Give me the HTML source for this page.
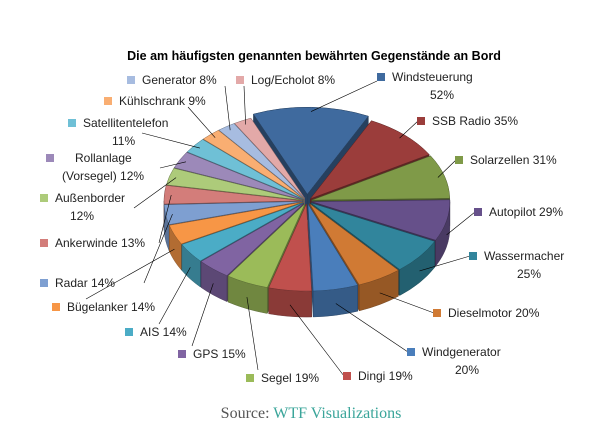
<!DOCTYPE html>
<html><head><meta charset="utf-8">
<style>
html,body{margin:0;padding:0;background:#fff;}
svg{display:block;font-family:"Liberation Sans",sans-serif;}
</style></head>
<body>
<svg id="chart" width="602" height="444" viewBox="0 0 602 444" xmlns="http://www.w3.org/2000/svg">
<text x="314" y="60" text-anchor="middle" font-size="12.5" font-weight="bold" fill="#000">Die am häufigsten genannten bewährten Gegenstände an Bord</text>
<g id="slices"></g>
<g id="labels"></g>
<text x="311" y="418" text-anchor="middle" font-family="'Liberation Serif',serif" font-size="16" fill="#555">Source: <tspan fill="#3aa59a">WTF Visualizations</tspan></text>
</svg>
<script>
const categories = ["Windsteuerung","SSB Radio","Solarzellen","Autopilot","Wassermacher","Dieselmotor","Windgenerator","Dingi","Segel","GPS","AIS","Bügelanker","Radar","Ankerwinde","Außenborder","Rollanlage (Vorsegel)","Satellitentelefon","Kühlschrank","Generator","Log/Echolot"];
const values = [52,35,31,29,25,20,20,19,19,15,14,14,14,13,12,12,11,9,8,8];
const colors = ["#3F6A9E","#9B3D3B","#7F9A48","#66508A","#31859C","#D07A34","#4A7EBB","#C0504D","#9BBB59","#8064A2","#4BACC6","#F79646","#7E9FD1","#D37D7A","#ADCB7A","#9C89B9","#6FC0D6","#F9AE72","#A7BCE0","#E3A9A8"];
const labelLines = [["Windsteuerung","52%"],["SSB Radio 35%"],["Solarzellen 31%"],["Autopilot 29%"],["Wassermacher","25%"],["Dieselmotor 20%"],["Windgenerator","20%"],["Dingi 19%"],["Segel 19%"],["GPS 15%"],["AIS 14%"],["Bügelanker 14%"],["Radar 14%"],["Ankerwinde 13%"],["Außenborder","12%"],["Rollanlage","(Vorsegel) 12%"],["Satellitentelefon","11%"],["Kühlschrank 9%"],["Generator 8%"],["Log/Echolot 8%"]];
const labelPos = [[381,77],[421,121],[459,160],[478,212],[473,256],[437,313],[411,352],[347,376],[250,378],[182,354],[129,332],[56,307],[44,283],[44,243],[44,198],[50,158],[72,123],[108,101],[131,80],[240,80]];
const secondLineX = [430,0,0,0,517,0,455,0,0,0,0,0,0,0,70,62,112,0,0,0];

const NS="http://www.w3.org/2000/svg";
const cx=307, cy=201, rx=138, ry=87, depth=26, startDeg=-113;
const total=values.reduce((a,b)=>a+b,0);
function rad(d){return d*Math.PI/180;}
function pt(a,ox,oy,r=1,dz=0){return [cx+ox+rx*r*Math.cos(rad(a)), cy+oy+ry*r*Math.sin(rad(a))+dz];}
function shade(hex,f){const n=parseInt(hex.slice(1),16);let r=(n>>16)&255,g=(n>>8)&255,b=n&255;return `rgb(${Math.round(r*f)},${Math.round(g*f)},${Math.round(b*f)})`;}
const gS=document.getElementById('slices'), gL=document.getElementById('labels');
function mk(tag,attrs,parent){const e=document.createElementNS(NS,tag);for(const k in attrs)e.setAttribute(k,attrs[k]);parent.appendChild(e);return e;}

let acc=startDeg; const sl=[];
values.forEach((v,i)=>{const a0=acc,a1=acc+v/total*360;acc=a1;const m=(a0+a1)/2;const ex=i===0?11:5;
 sl.push({i,a0,a1,m,ox:ex*Math.cos(rad(m)),oy:ex*0.62*Math.sin(rad(m))});});

const faces=[];
sl.forEach(s=>{
 [s.a0,s.a1].forEach(a=>{const p=pt(a,s.ox,s.oy);faces.push({y:(cy+p[1])/2,s,d:`M${cx+s.ox},${cy+s.oy}L${p[0]},${p[1]}L${p[0]},${p[1]+depth}L${cx+s.ox},${cy+s.oy+depth}Z`,f:0.6});});
 const s0=Math.max(s.a0,0), s1=Math.min(s.a1,180);
 if(s1>s0){const p0=pt(s0,s.ox,s.oy),p1=pt(s1,s.ox,s.oy);
  const la=(s1-s0)>180?1:0;
  faces.push({y:1000+pt((s0+s1)/2,0,0)[1],s,d:`M${p0[0]},${p0[1]}A${rx},${ry} 0 ${la} 1 ${p1[0]},${p1[1]}L${p1[0]},${p1[1]+depth}A${rx},${ry} 0 ${la} 0 ${p0[0]},${p0[1]+depth}Z`,f:0.72});}
});
faces.sort((a,b)=>a.y-b.y).forEach(F=>{
 const e=mk('path',{d:F.d,fill:shade(colors[F.s.i],F.f),stroke:shade(colors[F.s.i],0.5),'stroke-width':0.4},gS);
 
 
});
sl.forEach(s=>{
 const p0=pt(s.a0,s.ox,s.oy),p1=pt(s.a1,s.ox,s.oy);const la=(s.a1-s.a0)>180?1:0;
 const e=mk('path',{d:`M${cx+s.ox},${cy+s.oy}L${p0[0]},${p0[1]}A${rx},${ry} 0 ${la} 1 ${p1[0]},${p1[1]}Z`,fill:colors[s.i],stroke:shade(colors[s.i],0.6),'stroke-width':0.5},gS);
 
 
});

sl.forEach(s=>{
 const [sx,sy]=labelPos[s.i]; const lines=labelLines[s.i];
 const onRight = sx>300 && s.i<9;
 const m=s.m; const front=Math.sin(rad(m))>0.2;
 const ep=pt(m,s.ox,s.oy,front?1:0.95,front?depth*0.55:0);
 let ax,ay;
 if(s.i===0){ax=sx-4;ay=sy+4;}
 else if(s.i>=17){ax=sx+ (s.i===17?80:s.i===18?94:4);ay=sy+6;}
 else if(onRight){ax=sx-3;ay=sy;}
 else if(s.i>=7&&s.i<=11){ax=sx+ (s.i===7?-3:s.i===11?30:s.i===10?30:s.i===9?10:8);ay=sy-8;}
 else {ax=sx+ (s.i===16?70:s.i===15?110:s.i===14?90:s.i===13?115:100);ay=sy+(lines.length>1?10:0);}
 const ln=mk('line',{x1:ax,y1:ay,x2:ep[0],y2:ep[1],stroke:'#000','stroke-width':0.6},gL);
 
 
 const sq=mk('rect',{x:sx-4,y:sy-4,width:8,height:8,fill:colors[s.i]},gL);
 
 
 const t=mk('text',{x:sx+(s.i===15?25:11),y:sy+4,'font-size':12,fill:'#222'},gL);
 t.textContent=lines[0];
 
 
 if(lines.length>1){const t2=mk('text',{x:secondLineX[s.i],y:sy+22,'font-size':12,fill:'#222'},gL);
  t2.textContent=lines[1];
  
  }
});
</script>
</body></html>
